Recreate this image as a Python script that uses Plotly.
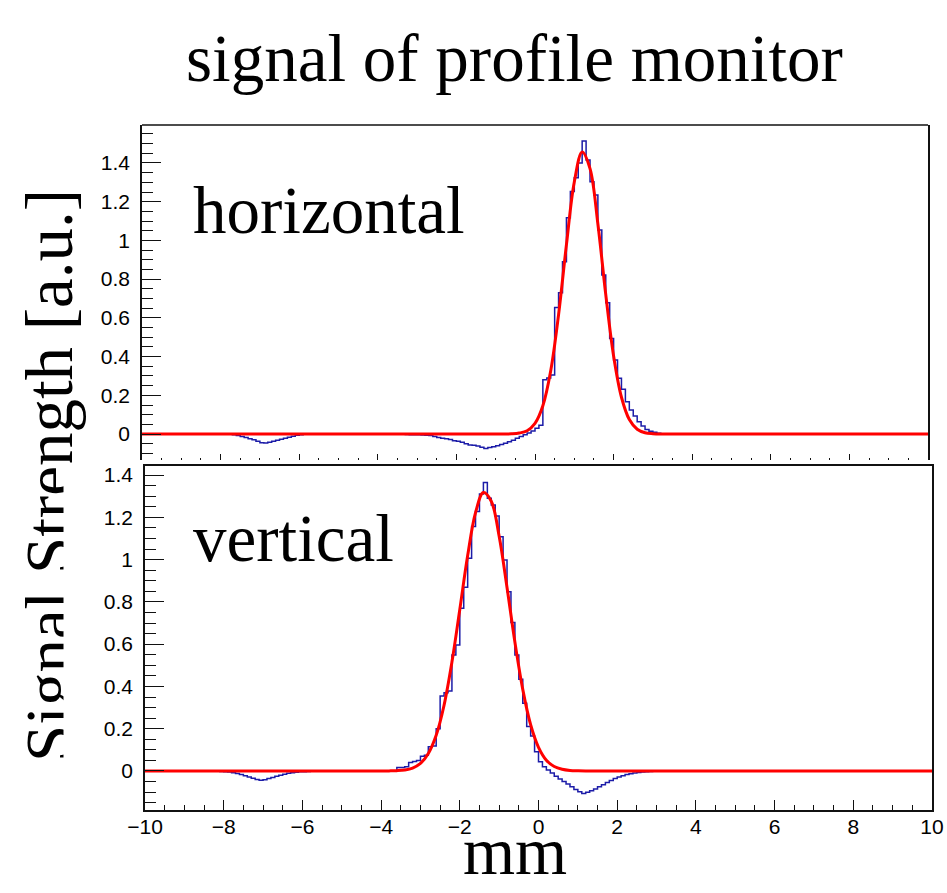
import numpy as np
import plotly.graph_objects as go

# ---------------- data ----------------
BIN_LO = -10.0
BIN_WIDTH = 0.1
N_BINS = 200

# horizontal profile histogram: (left edge of first bin, bin contents)
H_DIP1_START = -7.7
H_DIP1 = [-0.003, -0.008, -0.013, -0.018, -0.024, -0.030, -0.037, -0.045, -0.046,
          -0.042, -0.037, -0.032, -0.027, -0.022, -0.016, -0.011, -0.006, -0.003]
H_MAIN_START = -3.3
H_MAIN = [-0.002, -0.003, -0.004, -0.004, -0.005, -0.006, -0.008, -0.012, -0.018, -0.022,
          -0.024, -0.028, -0.034, -0.037, -0.042, -0.050, -0.056, -0.058, -0.062, -0.068,
          -0.074, -0.070, -0.066, -0.060, -0.054, -0.048, -0.040, -0.032, -0.022, -0.012,
          -0.004, 0.006, 0.016, 0.030, 0.046,
          0.280, 0.290, 0.305, 0.654, 0.730, 0.890, 1.117, 1.252, 1.324, 1.400,
          1.513, 1.415, 1.303, 1.234, 1.054, 0.821, 0.678, 0.494, 0.382, 0.288,
          0.231, 0.167, 0.124, 0.093, 0.064, 0.041, 0.024, 0.015, 0.009, 0.004, 0.002]

# vertical profile histogram
V_DIP1_START = -8.1
V_DIP1 = [-0.002, -0.003, -0.005, -0.008, -0.012, -0.017, -0.022, -0.028, -0.034, -0.040,
          -0.044, -0.041, -0.036, -0.031, -0.025, -0.020, -0.015, -0.011, -0.008, -0.006,
          -0.004, -0.003, -0.002]
V_MAIN_START = -3.6
V_MAIN = [0.017, 0.017, 0.020, 0.040, 0.045, 0.050, 0.070, 0.075, 0.115, 0.118,
          0.200, 0.355, 0.370, 0.378, 0.549, 0.596, 0.770, 0.869, 1.006, 1.156,
          1.227, 1.310, 1.364, 1.290, 1.258, 1.206, 1.108, 0.998, 0.848, 0.702,
          0.549, 0.434, 0.320, 0.210, 0.166, 0.091, 0.044, 0.020, 0.005, -0.010,
          -0.025, -0.038, -0.050, -0.062, -0.075, -0.087, -0.098, -0.106, -0.100, -0.093,
          -0.085, -0.075, -0.065, -0.055, -0.045, -0.035, -0.028, -0.022, -0.017, -0.013,
          -0.010, -0.007, -0.005, -0.003, -0.002, -0.001]

# fitted curves
FIT_H_X = [-10.0, -0.8, -0.6, -0.4, -0.2, 0.0, 0.2, 0.4, 0.6, 0.8, 1.0, 1.2, 1.4, 1.6,
           1.8, 2.0, 2.2, 2.4, 2.6, 2.8, 3.0, 3.2, 3.4, 10.0]
FIT_H_Y = [0.0, 0.0, 0.001, 0.005, 0.017, 0.055, 0.146, 0.327, 0.617, 0.978, 1.302, 1.457,
           1.371, 1.085, 0.721, 0.403, 0.190, 0.075, 0.025, 0.007, 0.002, 0.0003, 0.0, 0.0]
FIT_V_X = [-10.0, -4.0, -3.8, -3.6, -3.4, -3.2, -3.0, -2.8, -2.6, -2.4, -2.2, -2.0, -1.8,
           -1.6, -1.4, -1.2, -1.0, -0.8, -0.6, -0.4, -0.2, 0.0, 0.2, 0.4, 0.6, 0.8, 1.0,
           1.2, 10.0]
FIT_V_Y = [0.0, 0.0, 0.0005, 0.0016, 0.005, 0.014, 0.036, 0.083, 0.169, 0.311, 0.515,
           0.764, 1.019, 1.222, 1.317, 1.276, 1.110, 0.868, 0.610, 0.386, 0.219, 0.112,
           0.051, 0.021, 0.008, 0.0026, 0.0008, 0.0, 0.0]

X_TICKS = [-10, -8, -6, -4, -2, 0, 2, 4, 6, 8, 10]
Y_TICKS = [0, 0.2, 0.4, 0.6, 0.8, 1, 1.2, 1.4]

TITLE = "signal of profile monitor"
LABEL_TOP = "horizontal"
LABEL_BOTTOM = "vertical"
X_TITLE = "mm"
Y_TITLE = "Signal Strength [a.u.]"


def build(segments):
    vals = [0.0] * N_BINS
    for start, seg in segments:
        i0 = int(round((start - BIN_LO) / BIN_WIDTH))
        for k, v in enumerate(seg):
            vals[i0 + k] = v
    return vals


edges = list(np.round(BIN_LO + BIN_WIDTH * np.arange(N_BINS + 1), 3))
h_vals = build([(H_DIP1_START, H_DIP1), (H_MAIN_START, H_MAIN)])
v_vals = build([(V_DIP1_START, V_DIP1), (V_MAIN_START, V_MAIN)])

# page body margin is removed (see post_script), so figure pixels = window pixels
W, H = 947, 893
HIST_COLOR = "#1c1ca8"
FIT_COLOR = "#ff0000"
AX_COLOR = "#111111"
SERIF = "Liberation Serif"
SANS = "Liberation Sans"

fig = go.Figure()
fig.add_trace(go.Scatter(x=edges, y=h_vals + [h_vals[-1]], mode="lines", line_shape="hv",
                         line=dict(color=HIST_COLOR, width=1.5), xaxis="x", yaxis="y"))
fig.add_trace(go.Scatter(x=FIT_H_X, y=FIT_H_Y, mode="lines", line_shape="spline",
                         line=dict(color=FIT_COLOR, width=3), xaxis="x", yaxis="y"))
fig.add_trace(go.Scatter(x=edges, y=v_vals + [v_vals[-1]], mode="lines", line_shape="hv",
                         line=dict(color=HIST_COLOR, width=1.5), xaxis="x2", yaxis="y2"))
fig.add_trace(go.Scatter(x=FIT_V_X, y=FIT_V_Y, mode="lines", line_shape="spline",
                         line=dict(color=FIT_COLOR, width=3), xaxis="x2", yaxis="y2"))


def px(x):
    return x / W


def py(y):
    return 1 - y / H


yaxis_common = dict(showgrid=False, zeroline=False, showline=True, mirror=True,
                    linecolor=AX_COLOR, linewidth=1.6, ticks="inside", ticklen=19,
                    tickwidth=1.4, tickcolor=AX_COLOR, tickvals=Y_TICKS,
                    minor=dict(ticks="inside", dtick=0.05, tick0=0, ticklen=11,
                               tickwidth=1.2, tickcolor=AX_COLOR),
                    tickfont=dict(family=SANS, size=21, color="black"),
                    ticklabelstandoff=6, automargin=False)

fig.update_layout(
    width=W, height=H, margin=dict(l=0, r=0, t=0, b=0, autoexpand=False),
    paper_bgcolor="white", plot_bgcolor="white", showlegend=False,
    xaxis=dict(domain=[px(142), px(928)], range=[-10, 10], anchor="y",
               showgrid=False, zeroline=False, showline=False, automargin=False,
               ticks="inside", tickvals=X_TICKS, ticklen=6, tickwidth=1.3,
               tickcolor=AX_COLOR, showticklabels=False,
               minor=dict(ticks="inside", dtick=0.5, tick0=-10, ticklen=2,
                          tickwidth=1, tickcolor=AX_COLOR)),
    yaxis=dict(domain=[py(460), py(125)], range=[-0.134, 1.596], anchor="x",
               **yaxis_common),
    xaxis2=dict(domain=[px(145), px(932)], range=[-10, 10], anchor="y2",
                showgrid=False, zeroline=False, showline=True, mirror=True,
                linecolor=AX_COLOR, linewidth=1.6, automargin=False,
                ticks="inside", tickvals=X_TICKS, ticklen=10, tickwidth=1.4,
                tickcolor=AX_COLOR, ticklabelstandoff=-3,
                minor=dict(ticks="inside", dtick=0.5, tick0=-10, ticklen=5,
                           tickwidth=1.2, tickcolor=AX_COLOR),
                tickfont=dict(family=SANS, size=21, color="black")),
    yaxis2=dict(domain=[py(810), py(466)], range=[-0.1845, 1.4426], anchor="x2",
                **yaxis_common),
    shapes=[dict(type="line", xref="x domain", yref="y domain", x0=0, x1=1, y0=1, y1=1,
                 line=dict(color=AX_COLOR, width=1.6))],
    annotations=[
        dict(text=TITLE, x=px(514), y=py(58), xref="paper", yref="paper",
             xanchor="center", yanchor="middle", showarrow=False,
             font=dict(family=SERIF, size=67, color="black")),
        dict(text=LABEL_TOP, x=px(191), y=py(210), xref="paper", yref="paper",
             xanchor="left", yanchor="middle", showarrow=False,
             font=dict(family=SERIF, size=67, color="black")),
        dict(text=LABEL_BOTTOM, x=px(191), y=py(538), xref="paper", yref="paper",
             xanchor="left", yanchor="middle", showarrow=False,
             font=dict(family=SERIF, size=67, color="black")),
        dict(text=X_TITLE, x=px(515), y=py(851), xref="paper", yref="paper",
             xanchor="center", yanchor="middle", showarrow=False,
             font=dict(family=SERIF, size=67, color="black")),
        dict(text=Y_TITLE, x=px(49), y=py(476), xref="paper", yref="paper",
             xanchor="center", yanchor="middle", textangle=-90, showarrow=False,
             font=dict(family=SERIF, size=67, color="black")),
        # lower pad covers part of the y title
        dict(text=" ", x=px(63), y=py(462), xref="paper", yref="paper",
             xanchor="left", yanchor="top", width=38, height=431, borderpad=0,
             bgcolor="white", showarrow=False),
    ],
)

fig.write_html(
    "out.html",
    config={"displayModeBar": False},
    post_script="document.body.style.margin='0';document.body.style.overflow='hidden';",
)
